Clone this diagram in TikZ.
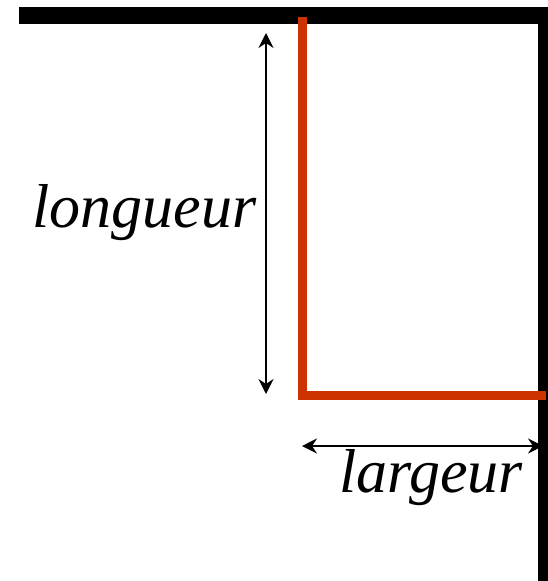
\documentclass[tikz,border=0pt]{standalone}
\usepackage{fontspec}
\setmainfont{Liberation Serif}
\usepackage{tikz}
\usetikzlibrary{arrows.meta, calc}
\definecolor{brique}{HTML}{CC3300}

\begin{document}
\begin{tikzpicture}[x=1pt, y=-1pt,
                wall/.style={line width=17pt, black},
                side/.style={line width=10pt, black},
                piece/.style={line width=9pt, brique},
                cote/.style={line width=1.6pt, {Stealth[length=15pt, width=15pt, inset=5pt]}-{Stealth[length=15pt, width=15pt, inset=5pt]}},
                label/.style={font=\fontsize{62}{70}\selectfont\itshape, inner sep=0pt, anchor=base}
            ]
                \useasboundingbox (0,0) rectangle (548,581);

                % Coordinates
                \coordinate (wall-left) at (19,15.5);
                \coordinate (wall-right) at (548,15.5);
                \coordinate (side-top) at (543,7);
                \coordinate (side-bottom) at (543,581);

                \coordinate (piece-top) at (302.5,17);
                \coordinate (piece-corner) at (302.5,395.5);
                \coordinate (piece-end) at (546,395.5);

                \coordinate (long-top) at (266,33);
                \coordinate (long-bottom) at (266,394);
                \coordinate (larg-left) at (302,446);
                \coordinate (larg-right) at (543,446);

                % Walls
                \draw[wall] (wall-left) -- (wall-right);
                \draw[side] (side-top) -- (side-bottom);

                % Piece
                \draw[piece] (piece-top) -- (piece-corner) -- (piece-end);

                % Dimensions
                \draw[cote] (long-top) -- (long-bottom);
                \draw[cote] (larg-left) -- (larg-right);

                \node[label] (longueur) at (144.5,227) {longueur};
                \node[label] (largeur) at (431,492) {largeur};
            \end{tikzpicture}
\end{document}
